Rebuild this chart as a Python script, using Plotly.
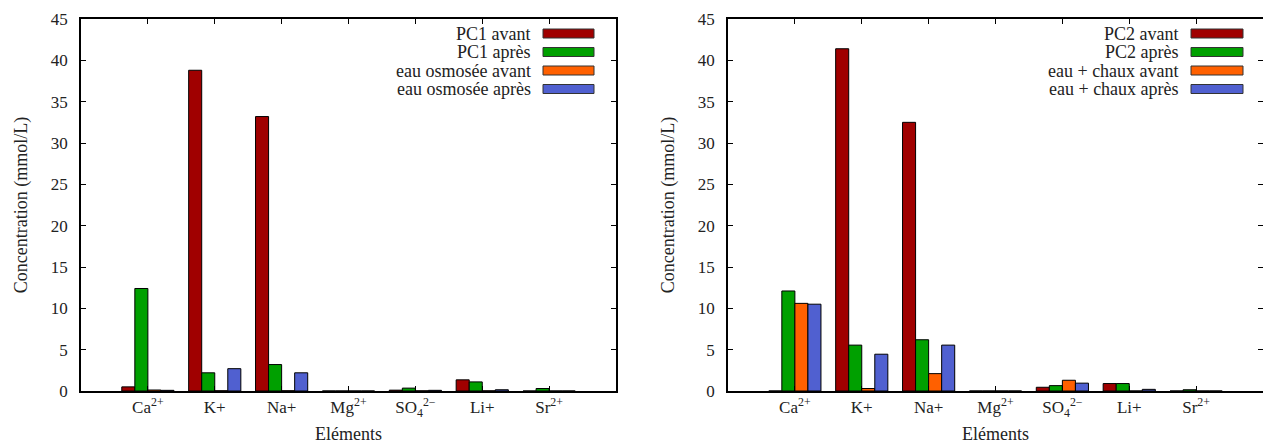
import plotly.graph_objects as go

categories = [1, 2, 3, 4, 5, 6, 7]
tick_labels = ["Ca<sup>2+</sup>", "K+", "Na+", "Mg<sup>2+</sup>",
               "SO<sub>4</sub><sup>2−</sup>", "Li+", "Sr<sup>2+</sup>"]

# Left chart
pc1_avant = [0.5, 38.8, 33.2, 0.0, 0.1, 1.35, 0.0]
pc1_apres = [12.4, 2.2, 3.2, 0.0, 0.35, 1.1, 0.3]
eau_osm_avant = [0.12, 0.03, 0.03, 0.0, 0.02, 0.02, 0.0]
eau_osm_apres = [0.08, 2.7, 2.2, 0.0, 0.08, 0.15, 0.0]

# Right chart
pc2_avant = [0.0, 41.4, 32.5, 0.0, 0.45, 0.9, 0.0]
pc2_apres = [12.1, 5.55, 6.2, 0.0, 0.65, 0.9, 0.15]
eau_chaux_avant = [10.6, 0.3, 2.1, 0.0, 1.3, 0.0, 0.0]
eau_chaux_apres = [10.5, 4.45, 5.55, 0.0, 0.95, 0.2, 0.0]

left_names = ["PC1 avant", "PC1 après", "eau osmosée avant", "eau osmosée après"]
right_names = ["PC2 avant", "PC2 après", "eau + chaux avant", "eau + chaux après"]
colors = ["#a00000", "#00a000", "#ff6000", "#5060d0"]

FONT = "Liberation Serif"
TXT = "#222222"
W, H = 1263, 444
fig = go.Figure()

left_series = [pc1_avant, pc1_apres, eau_osm_avant, eau_osm_apres]
right_series = [pc2_avant, pc2_apres, eau_chaux_avant, eau_chaux_apres]

for vals, name, col in zip(left_series, left_names, colors):
    fig.add_trace(go.Bar(x=categories, y=vals, name=name, marker_color=col,
                         marker_line_color="black", marker_line_width=1,
                         xaxis="x", yaxis="y", offsetgroup=name, showlegend=False))
for vals, name, col in zip(right_series, right_names, colors):
    fig.add_trace(go.Bar(x=categories, y=vals, name=name, marker_color=col,
                         marker_line_color="black", marker_line_width=1,
                         xaxis="x2", yaxis="y2", offsetgroup=name, showlegend=False))

def px_x(p):
    return min(max(p / W, 0), 1)

def px_y(p):
    return min(max(1 - p / H, 0), 1)

ybot = px_y(391)
ytop = px_y(19)
left_dom = [px_x(81), px_x(616)]
right_dom = [px_x(728), px_x(1263)]

xcommon = dict(range=[0, 8], tickvals=categories, ticktext=tick_labels,
               ticks="inside", ticklen=5, tickcolor="black", mirror="ticks",
               showline=True, linecolor="black", linewidth=1.5,
               showgrid=False, zeroline=False, automargin=False,
               tickfont=dict(family=FONT, size=17, color=TXT),
               title=dict(text="Eléments", font=dict(family=FONT, size=18, color=TXT), standoff=11))
ycommon = dict(range=[0, 45], tickvals=[0, 5, 10, 15, 20, 25, 30, 35, 40, 45],
               ticks="inside", ticklen=5, tickcolor="black", mirror="ticks",
               showline=True, linecolor="black", linewidth=1.5,
               showgrid=False, zeroline=False, ticklabelstandoff=8, automargin=False,
               tickfont=dict(family=FONT, size=17, color=TXT),
               title=dict(text="Concentration (mmol/L)", font=dict(family=FONT, size=18, color=TXT), standoff=19))

fig.update_layout(
    template="none",
    width=W, height=H,
    margin=dict(l=0, r=0, t=0, b=0, autoexpand=False),
    paper_bgcolor="white", plot_bgcolor="white",
    barmode="group", bargap=0.22, bargroupgap=0,
    showlegend=False,
    xaxis=dict(domain=left_dom, anchor="y", **xcommon),
    yaxis=dict(domain=[ybot, ytop], anchor="x", **ycommon),
    xaxis2=dict(domain=right_dom, anchor="y2", **xcommon),
    yaxis2=dict(domain=[ybot, ytop], anchor="x2", **ycommon),
)

# custom legends: right-aligned text with swatch on the right (pixel layout)
legend_rows_px = [33.5, 52, 70.5, 89]
def add_legend(names, sw_left, sw_right):
    for ypix, name, col in zip(legend_rows_px, names, colors):
        fig.add_shape(type="rect", xref="paper", yref="paper",
                      x0=px_x(sw_left), x1=px_x(sw_right),
                      y0=px_y(ypix + 4.5), y1=px_y(ypix - 4.5),
                      fillcolor=col, line=dict(color="#333333", width=1))
        fig.add_annotation(xref="paper", yref="paper",
                           x=px_x(sw_left - 10), y=px_y(ypix), text=name, showarrow=False,
                           xanchor="right", yanchor="middle",
                           font=dict(family=FONT, size=18, color=TXT))

add_legend(left_names, 543, 594)
add_legend(right_names, 1191, 1243)

fig.write_html("out.html",
               config={"displayModeBar": False},
               post_script="document.body.style.margin='0';document.body.style.overflow='hidden';")
